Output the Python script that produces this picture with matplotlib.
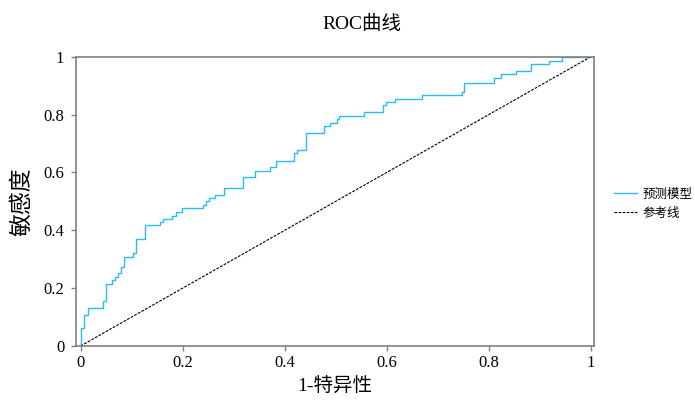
import numpy as np
import matplotlib.pyplot as plt

plt.rcParams['font.family'] = ['Liberation Serif', 'Noto Sans CJK SC']

# ROC 曲线上的阶梯拐点（1-特异性, 敏感度）
fpr = [0.0, 0.0, 0.007, 0.007, 0.014, 0.014, 0.043, 0.043, 0.050, 0.050,
       0.061, 0.061, 0.068, 0.068, 0.074, 0.074, 0.080, 0.080, 0.086, 0.086,
       0.103, 0.103, 0.109, 0.109, 0.127, 0.127, 0.156, 0.156, 0.162, 0.162,
       0.180, 0.180, 0.187, 0.187, 0.199, 0.199, 0.239, 0.239, 0.246, 0.246,
       0.252, 0.252, 0.263, 0.263, 0.282, 0.282, 0.318, 0.318, 0.342, 0.342,
       0.372, 0.372, 0.383, 0.383, 0.419, 0.419, 0.425, 0.425, 0.442, 0.442,
       0.478, 0.478, 0.489, 0.489, 0.502, 0.502, 0.507, 0.507, 0.556, 0.556,
       0.592, 0.592, 0.598, 0.598, 0.616, 0.616, 0.669, 0.669, 0.747, 0.747,
       0.752, 0.752, 0.811, 0.811, 0.824, 0.824, 0.854, 0.854, 0.883, 0.883,
       0.919, 0.919, 0.943, 0.943, 1.0]
tpr = [0.0, 0.061, 0.061, 0.107, 0.107, 0.132, 0.132, 0.157, 0.157, 0.214,
       0.214, 0.228, 0.228, 0.240, 0.240, 0.253, 0.253, 0.274, 0.274, 0.309,
       0.309, 0.322, 0.322, 0.369, 0.369, 0.417, 0.417, 0.428, 0.428, 0.440,
       0.440, 0.450, 0.450, 0.463, 0.463, 0.476, 0.476, 0.487, 0.487, 0.501,
       0.501, 0.513, 0.513, 0.523, 0.523, 0.547, 0.547, 0.583, 0.583, 0.606,
       0.606, 0.618, 0.618, 0.641, 0.641, 0.666, 0.666, 0.678, 0.678, 0.737,
       0.737, 0.760, 0.760, 0.772, 0.772, 0.786, 0.786, 0.797, 0.797, 0.808,
       0.808, 0.832, 0.832, 0.843, 0.843, 0.855, 0.855, 0.867, 0.867, 0.880,
       0.880, 0.911, 0.911, 0.927, 0.927, 0.940, 0.940, 0.952, 0.952, 0.975,
       0.975, 0.986, 0.986, 1.0, 1.0]
ref = [0, 1]

fig = plt.figure(figsize=(6.95, 4.0), dpi=100)
ax = fig.add_axes([0.1094, 0.135, 0.7453, 0.723])

ax.plot(fpr, tpr, color='#2bbcf0', lw=1.0, label='预测模型')
ax.plot(ref, ref, color='black', lw=0.8, ls=(0, (2.5, 1.2)), label='参考线')

ax.set_xlim(-0.009, 1.0065)
ax.set_ylim(0, 1)
ax.set_xticks([0, 0.2, 0.4, 0.6, 0.8, 1])
ax.set_yticks([0, 0.2, 0.4, 0.6, 0.8, 1])
ax.set_xticklabels(['0', '0.2', '0.4', '0.6', '0.8', '1'])
ax.set_yticklabels(['0', '0.2', '0.4', '0.6', '0.8', '1'])
ax.tick_params(direction='out', length=3.5, width=1, color='#808080',
               labelsize=12, pad=3)
ax.tick_params(axis='y', pad=5)
for s in ax.spines.values():
    s.set_color('#808080')
    s.set_linewidth(1.2)

ax.set_xlabel('1-特异性', fontsize=14, labelpad=5)
ax.set_ylabel('敏感度', fontsize=16.5, labelpad=7)
fig.text(362/695, 1 - 24/400, 'ROC曲线', fontsize=14, ha='center', va='center')

ax.legend(loc='center left', bbox_to_anchor=(1.029, 0.49), frameon=False,
          borderaxespad=0, fontsize=9, handlelength=1.85, handletextpad=0.4,
          labelspacing=0.55)

fig.savefig('out.png', dpi=100)
